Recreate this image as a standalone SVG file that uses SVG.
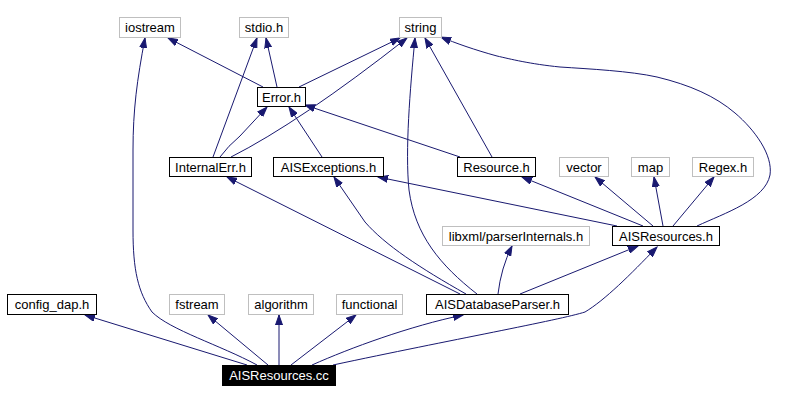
<svg xmlns="http://www.w3.org/2000/svg" width="809" height="401" viewBox="0 0 809 401">
<style>
.n rect{fill:#fff;stroke:#000;stroke-width:1}
.g rect{fill:#fff;stroke:#bfbfbf;stroke-width:1}
.n text,.g text{font-family:"Liberation Sans",Arial,sans-serif;font-size:13px;fill:#000;text-anchor:middle}
.r rect{fill:#000;stroke:#000}
.r text{font-family:"Liberation Sans",Arial,sans-serif;font-size:13px;fill:#fff;text-anchor:middle}
.e path{fill:none;stroke:#191970;stroke-width:1;marker-end:url(#a)}
</style>
<defs>
<marker id="a" markerWidth="11" markerHeight="8" refX="10" refY="4" orient="auto" markerUnits="userSpaceOnUse">
<path d="M0,0.5 L10,4 L0,7.5 z" fill="#191970" stroke="#191970" stroke-width="1"/>
</marker>
</defs>
<rect width="809" height="401" fill="#fff"/>
<g class="e" id="edges">
<path d="M263,87 L168,38"/>
<path d="M277,87 L266,38"/>
<path d="M299,87 L400,38"/>
<path d="M213,157 L257,38"/>
<path d="M220,157 Q228,146 240,136 L267,107"/>
<path d="M231,157 Q300,122 407,38"/>
<path d="M322,157 L289,107"/>
<path d="M460,157 L305,105"/>
<path d="M492,157 L425,38"/>
<path d="M477,294 C440,265 415,235 409,190 C405,150 410,90 415,38"/>
<path d="M460,294 L227,177"/>
<path d="M466,294 C420,268 385,245 365,222 L334,177"/>
<path d="M617,226 L378,177"/>
<path d="M643,226 L522,177"/>
<path d="M653,226 L595,177"/>
<path d="M663,226 L654,177"/>
<path d="M673,226 L714,177"/>
<path d="M697,226 C725,213 765,200 770,175 C773,155 755,130 735,113 C715,96 690,85 657,77 C630,71 590,69 560,67 C530,64 510,59 497,56 C475,50 455,43 441,37"/>
<path d="M498,294 Q501,268 512,246"/>
<path d="M520,294 L638,246"/>
<path d="M333,365 C450,340 560,320 585,312 C605,300 630,275 657,247"/>
<path d="M312,365 C350,348 410,326 463,315"/>
<path d="M291,365 L356,315"/>
<path d="M279,365 L279,315"/>
<path d="M268,365 L208,315"/>
<path d="M247,365 L85,315"/>
<path d="M257,365 C220,345 170,330 152,312 C138,292 133,270 133,230 L133,150 C133,110 137,80 145,38"/>
</g>
<g class="g" id="iostream"><rect x="119.5" y="17.5" width="61" height="20"/><text x="150" y="32">iostream</text></g>
<g class="g" id="stdio_h"><rect x="239.5" y="17.5" width="49" height="20"/><text x="264" y="32">stdio.h</text></g>
<g class="g" id="string"><rect x="399.5" y="17.5" width="42" height="20"/><text x="420.5" y="32">string</text></g>
<g class="n" id="Error_h"><rect x="257.5" y="87.5" width="48" height="19"/><text x="281.5" y="102">Error.h</text></g>
<g class="n" id="InternalErr_h"><rect x="169.5" y="157.5" width="82" height="19"/><text x="210.5" y="172">InternalErr.h</text></g>
<g class="n" id="AISExceptions_h"><rect x="273.5" y="157.5" width="110" height="19"/><text x="328.5" y="172">AISExceptions.h</text></g>
<g class="n" id="Resource_h"><rect x="457.5" y="157.5" width="78" height="19"/><text x="496.5" y="172">Resource.h</text></g>
<g class="g" id="vector"><rect x="559.5" y="157.5" width="49" height="19"/><text x="584" y="172">vector</text></g>
<g class="g" id="map"><rect x="631.5" y="157.5" width="38" height="19"/><text x="650.5" y="172">map</text></g>
<g class="g" id="Regex_h"><rect x="692.5" y="157.5" width="61" height="19"/><text x="723" y="172">Regex.h</text></g>
<g class="g" id="libxml_parserInternals_h"><rect x="442.5" y="226.5" width="147" height="19"/><text x="516" y="241">libxml/parserInternals.h</text></g>
<g class="n" id="AISResources_h"><rect x="612.5" y="226.5" width="107" height="19"/><text x="666" y="241">AISResources.h</text></g>
<g class="n" id="config_dap_h"><rect x="7.5" y="294.5" width="89" height="20"/><text x="52" y="309">config_dap.h</text></g>
<g class="g" id="fstream"><rect x="169.5" y="294.5" width="55" height="20"/><text x="197" y="309">fstream</text></g>
<g class="g" id="algorithm"><rect x="248.5" y="294.5" width="65" height="20"/><text x="281" y="309">algorithm</text></g>
<g class="g" id="functional"><rect x="336.5" y="294.5" width="66" height="20"/><text x="369.5" y="309">functional</text></g>
<g class="n" id="AISDatabaseParser_h"><rect x="426.5" y="294.5" width="142" height="20"/><text x="497.5" y="309">AISDatabaseParser.h</text></g>
<g class="r" id="AISResources_cc"><rect x="222.5" y="365.5" width="113" height="20"/><text x="279" y="380">AISResources.cc</text></g>
</svg>
